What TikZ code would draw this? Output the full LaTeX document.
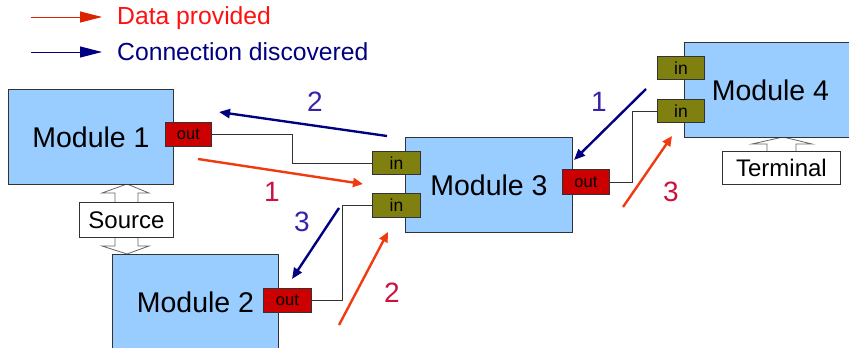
\documentclass[tikz,border=0pt]{standalone}
\usepackage{fontspec}
\setmainfont{Liberation Sans}
\usetikzlibrary{arrows.meta}
\definecolor{modblue}{HTML}{99CCFF}
\definecolor{outred}{HTML}{CC0000}
\definecolor{inolive}{HTML}{808010}
\definecolor{arrred}{HTML}{F03A10}
\definecolor{arrblue}{HTML}{000080}
\definecolor{lblred}{HTML}{CC1040}
\definecolor{lblblue}{HTML}{3A22A8}
\definecolor{legred}{HTML}{FF1010}
\definecolor{legarrred}{HTML}{DD2200}
\definecolor{edge}{HTML}{333333}
\tikzset{
  modbox/.style={draw=edge, fill=modblue, line width=0.9pt, inner sep=0pt, anchor=north west, font=\fontsize{28.5}{30}\selectfont},
  outport/.style={draw=edge, fill=outred, line width=0.9pt, inner sep=0pt, anchor=north west, font=\fontsize{16.5}{17}\selectfont},
  inport/.style={draw=edge, fill=inolive, line width=0.9pt, inner sep=0pt, anchor=north west, font=\fontsize{17.5}{18}\selectfont},
  wire/.style={draw=edge, line width=0.9pt},
  databox/.style={draw=edge, fill=white, line width=0.9pt, inner sep=0pt, anchor=north west, font=\fontsize{24}{26}\selectfont},
  bigarrow/.style={draw=black!60, fill=white, line width=0.8pt},
  dataarr/.style={draw=arrred, line width=2.4pt, -{Triangle[length=10pt,width=9pt]}},
  discarr/.style={draw=arrblue, line width=2.4pt, -{Triangle[length=11pt,width=9pt]}},
  lblr/.style={text=lblred, font=\fontsize{28}{30}\selectfont},
  lblb/.style={text=lblblue, font=\fontsize{28}{30}\selectfont},
  legarr/.style={line width=1pt, -{Triangle[length=22pt,width=11pt]}},
  legtext/.style={anchor=west, inner sep=0pt, font=\fontsize{24.7}{26}\selectfont},
}
\begin{document}
\begin{tikzpicture}[x=1pt,y=-1pt]
\useasboundingbox (0,0) rectangle (849,348);
\clip (0,0) rectangle (849,348);
% legend
\coordinate (lg1s) at (31,17);
\coordinate (lg1e) at (102,17);
\coordinate (lg2s) at (31,52);
\coordinate (lg2e) at (102,52);
\draw[legarr, draw=legarrred, fill=legarrred] (lg1s) -- (lg1e);
\draw[legarr, draw=arrblue, fill=arrblue] (lg2s) -- (lg2e);
\node[legtext, text=legred] (leg1) at (117,18) {Data provided};
\node[legtext, text=arrblue] (leg2) at (117,52) {Connection discovered};
% source double arrow
\draw[bigarrow] (127,184) -- (149,193) -- (138,193) -- (138,246) -- (149,246) -- (127,254)
  -- (102,246) -- (115,246) -- (115,193) -- (102,193) -- cycle;
\node[databox, minimum width=94pt, minimum height=35pt] (src) at (79,202) {Source};
% terminal arrow
\draw[bigarrow] (783,137) -- (812,144) -- (796,144) -- (796,152) -- (767,152) -- (767,144) -- (752,144) -- cycle;
\node[databox, minimum width=118pt, minimum height=33pt] (term) at (722,151) {Terminal};
% modules
\node[modbox, minimum width=165pt, minimum height=95pt] (m1) at (8,89) {Module 1};
\node[modbox, minimum width=166pt, minimum height=96pt] (m2) at (112,254) {Module 2};
\node[modbox, minimum width=167pt, minimum height=95pt] (m3) at (405,137) {Module 3};
\node[modbox, minimum width=172pt, minimum height=95pt] (m4) at (684,42) {Module 4};
% ports
\node[outport, minimum width=46pt, minimum height=24pt] (o1) at (165,122) {out};
\node[outport, minimum width=48pt, minimum height=24pt] (o2) at (263,288) {out};
\node[outport, minimum width=47pt, minimum height=25pt] (o3) at (562,169) {out};
\node[inport, minimum width=48pt, minimum height=23pt] (i31) at (372,151) {in};
\node[inport, minimum width=48pt, minimum height=24pt] (i32) at (372,193) {in};
\node[inport, minimum width=47pt, minimum height=23pt] (i41) at (657,56) {in};
\node[inport, minimum width=47pt, minimum height=23pt] (i42) at (657,99) {in};
% wires
\draw[wire] (o1.east) -- ++(81,0) |- (i31.west);
\draw[wire] (o2.east) -- ++(31,0) |- (i32.west);
\draw[wire] (o3.east) -- ++(23,0) |- (i42.west);
% flow arrows
\coordinate (b2s) at (387,136); \coordinate (b2e) at (219,112);
\coordinate (r1s) at (198,159); \coordinate (r1e) at (363,184);
\coordinate (b3s) at (339,208); \coordinate (b3e) at (292,279);
\coordinate (r2s) at (339,325); \coordinate (r2e) at (388,232);
\coordinate (b1s) at (646,89);  \coordinate (b1e) at (574,160);
\coordinate (r3s) at (623,207); \coordinate (r3e) at (672,136);
\draw[discarr] (b2s) -- (b2e);
\draw[dataarr] (r1s) -- (r1e);
\draw[discarr] (b3s) -- (b3e);
\draw[dataarr] (r2s) -- (r2e);
\draw[discarr] (b1s) -- (b1e);
\draw[dataarr] (r3s) -- (r3e);
\node[lblb] (n2b) at (315,102) {2};
\node[lblr] (n1r) at (272,192) {1};
\node[lblb] (n3b) at (302,222) {3};
\node[lblr] (n2r) at (392,293) {2};
\node[lblb] (n1b) at (599,102) {1};
\node[lblr] (n3r) at (671,192) {3};
\end{tikzpicture}
\end{document}
